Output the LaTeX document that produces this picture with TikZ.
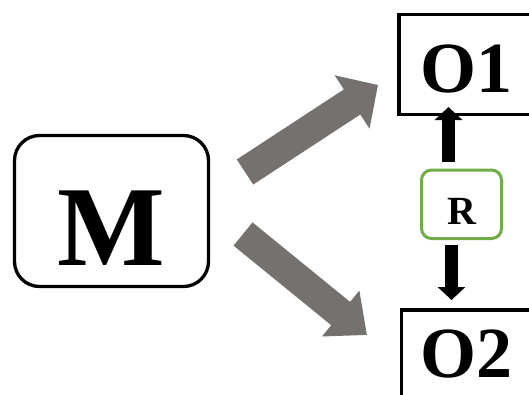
\documentclass[tikz,border=0pt]{standalone}
\usepackage{fontspec}
\setmainfont{Liberation Serif}
\usetikzlibrary{arrows.meta,calc}
\definecolor{arrowgray}{HTML}{767171}
\definecolor{rgreen}{HTML}{70AD47}
\begin{document}
\begin{tikzpicture}[x=1pt,y=-1pt,
  box/.style={draw=black,line width=3.3pt,inner sep=0pt,outer sep=0pt},
  rbox/.style={draw=rgreen,line width=3pt,rounded corners=10pt,inner sep=0pt,outer sep=0pt},
  blk/.style={draw=black,line width=13pt,-{Triangle[width=27pt,length=13pt]}},
  bigarrow/.style={draw=arrowgray,line width=30pt,line cap=butt},
]
\useasboundingbox (0,0) rectangle (529,394);

% main box
\node[box,rounded corners=25pt,minimum width=194pt,minimum height=151pt,
      text height=108pt,text depth=0pt,
      font=\fontsize{114}{120}\selectfont\bfseries] (M) at (111.5,211) {M};

% output boxes, running off the right edge
\node[box,anchor=north west,minimum height=100pt,text width=150pt,
      inner xsep=21.5pt,align=left,text height=55pt,text depth=0pt,
      font=\fontsize{72}{80}\selectfont\bfseries] (O1) at (399,14.5) {O1};
\node[box,anchor=north west,minimum height=150pt,text width=150pt,
      inner xsep=19pt,align=left,text height=0pt,text depth=15pt,
      font=\fontsize{72}{80}\selectfont\bfseries] (O2) at (401.5,310) {O2};

% relation box
\node[rbox,minimum width=80pt,minimum height=68.5pt,
      text height=39.5pt,text depth=0pt,
      font=\fontsize{40}{44}\selectfont\bfseries] (R) at (461.5,204.25) {R};

% wide grey arrows from M
\path (M.east) ++(36.5,-39) coordinate (g1s);
\path (O1.west) ++(-21,20.5) coordinate (g1e);
\path (M.east) ++(34.5,23) coordinate (g2s);
\path (O2.west) ++(-34.5,-50) coordinate (g2e);
\draw[bigarrow,-{Triangle[width=62pt,length=31pt]}] (g1s) -- (g1e);
\draw[bigarrow,-{Triangle[width=57pt,length=34pt]}] (g2s) -- (g2e);

% black arrows from R
\path (R.north) ++(-13,-8) coordinate (ua);
\path (O1.south) ++(0,-7.5) coordinate (ub);
\draw[blk] (ua) -- (ua |- ub);
\path (R.south) ++(-10,6.5) coordinate (da);
\path (O2.north) ++(0,-10) coordinate (db);
\draw[blk] (da) -- (da |- db);
\end{tikzpicture}
\end{document}
